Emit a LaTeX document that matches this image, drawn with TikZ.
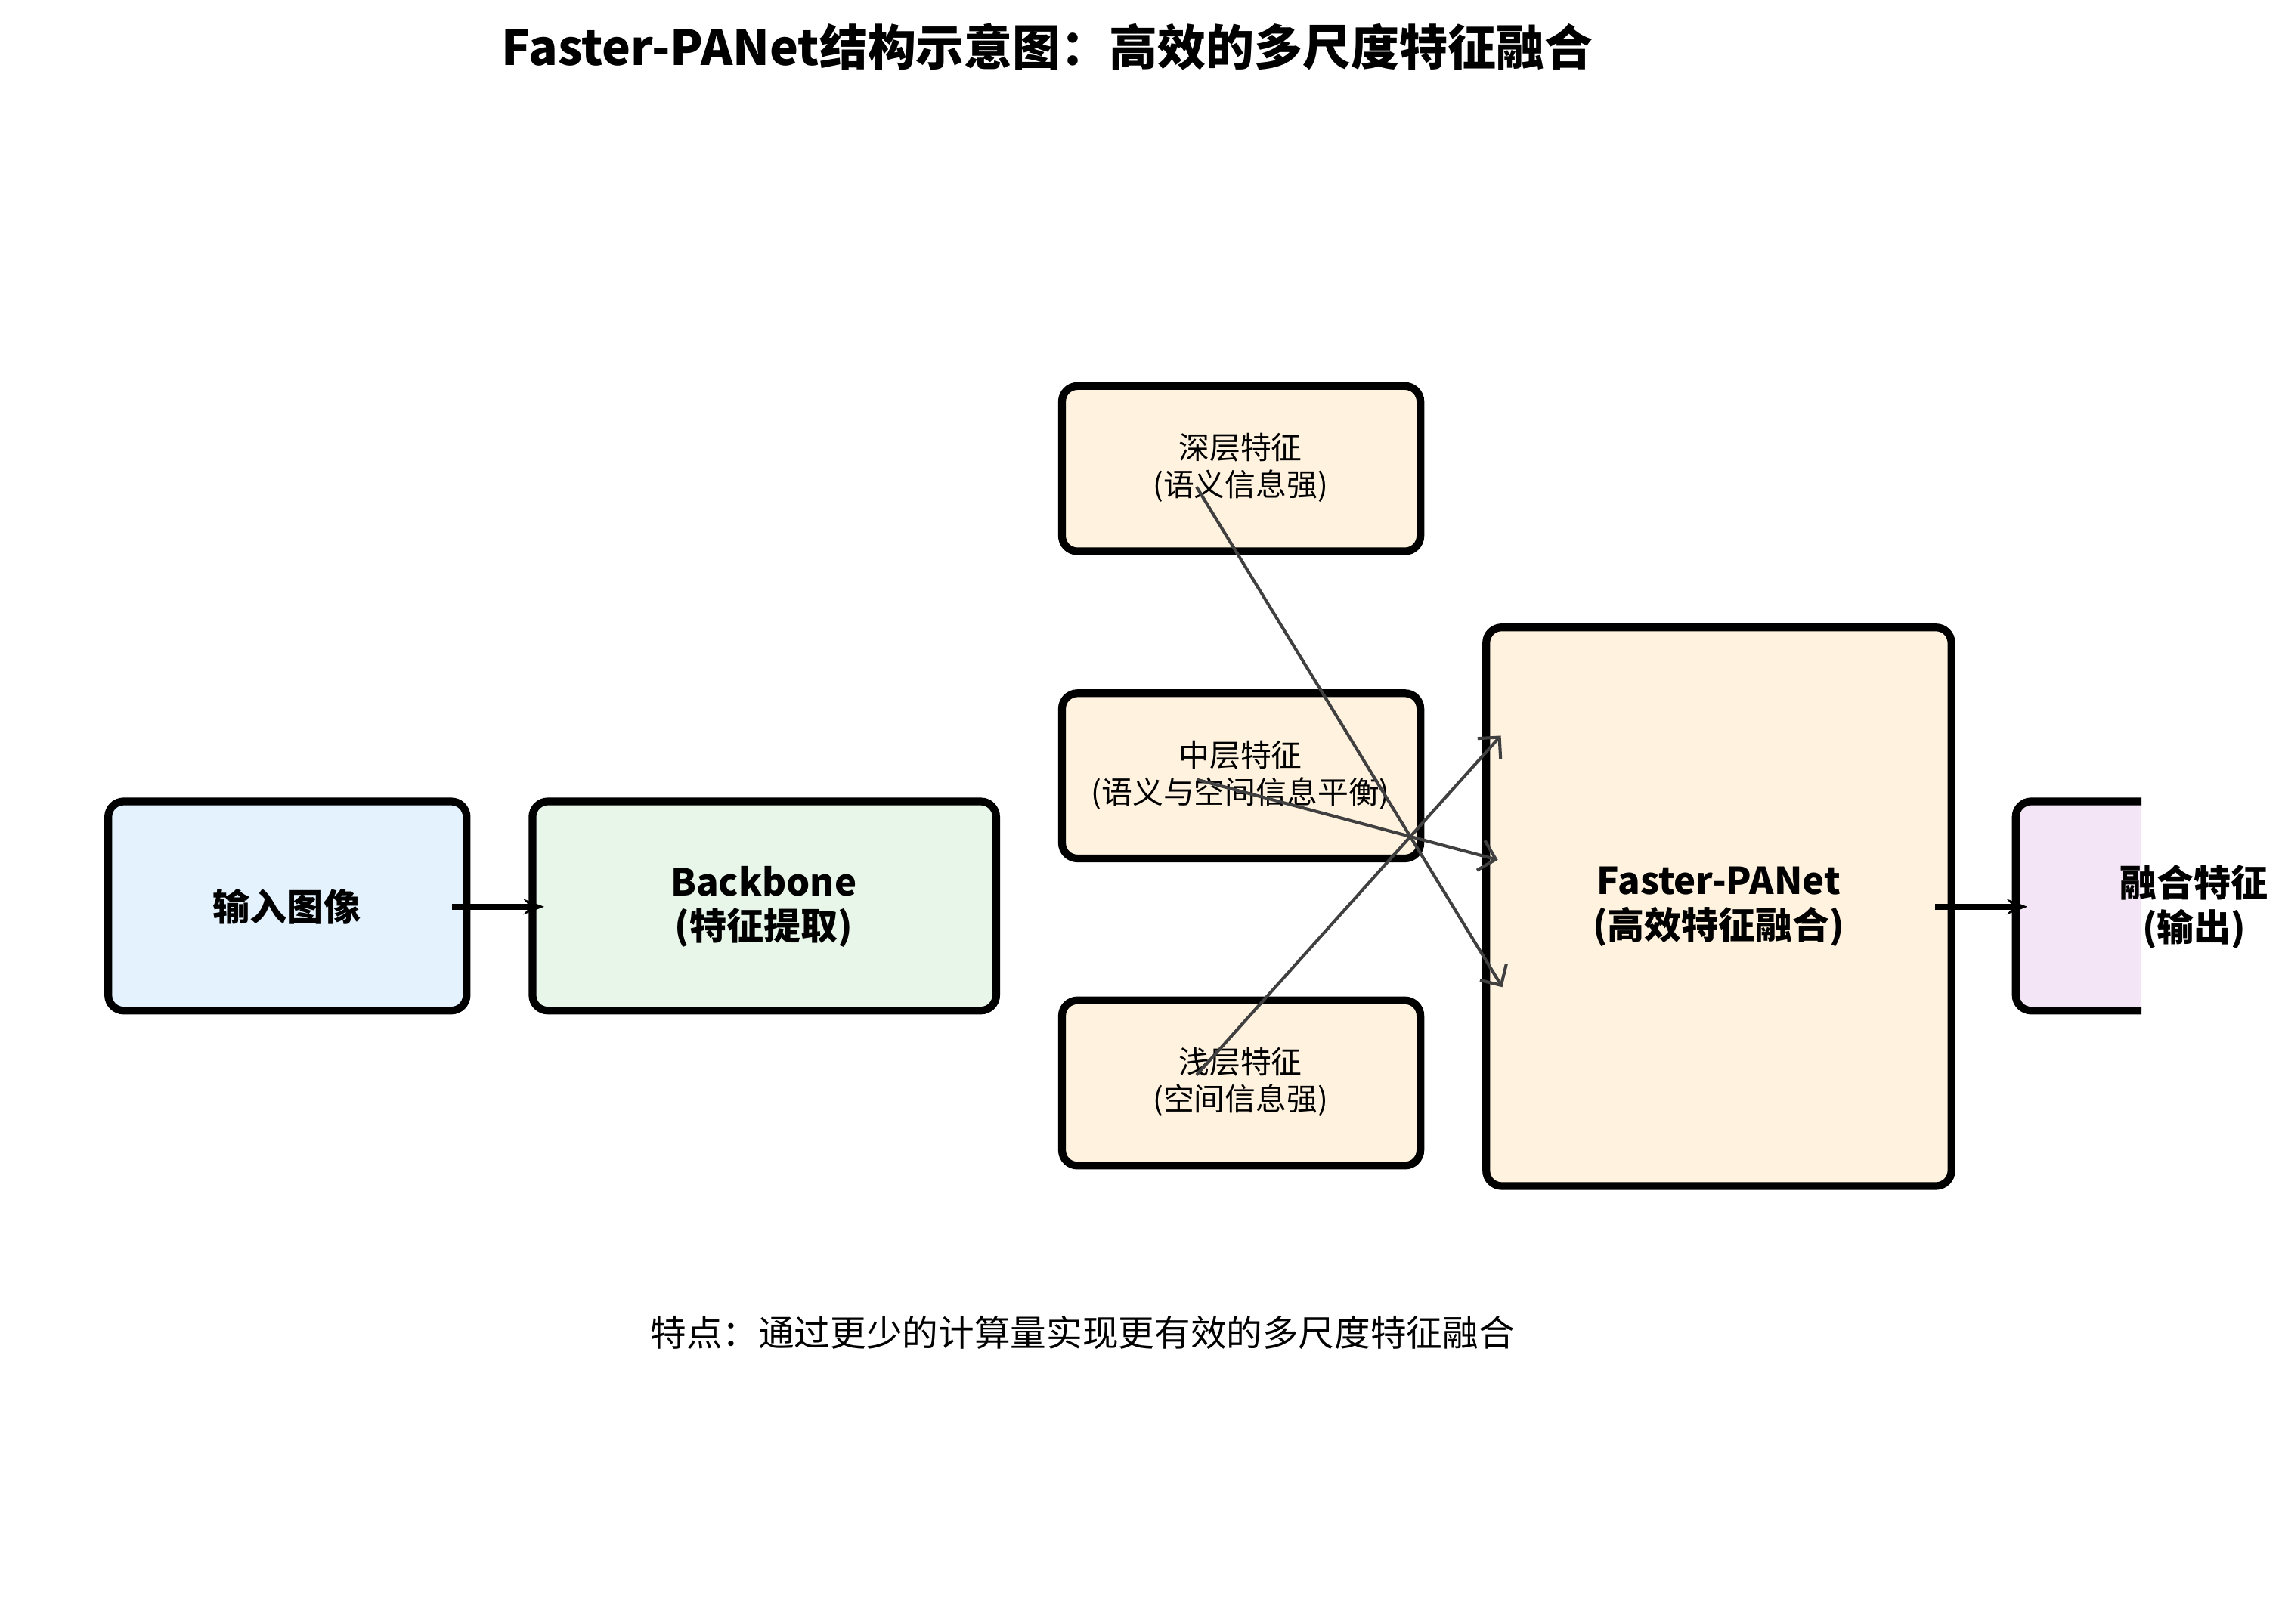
\documentclass[tikz,border=0pt]{standalone}
\usepackage{fontspec}
\setmainfont{Noto Sans CJK SC}
\usetikzlibrary{arrows.meta}
\definecolor{cblue}{HTML}{E3F2FD}
\definecolor{cgreen}{HTML}{E8F5E9}
\definecolor{corange}{HTML}{FFF3E0}
\definecolor{cpurple}{HTML}{F3E5F5}
\begin{document}
\begin{tikzpicture}[x=0.01cm,y=-0.01cm,
 box/.style={draw=black,line width=1.5pt,rounded corners=3pt},
 big/.style={font=\fontsize{7.2}{8.6}\selectfont\bfseries,align=center},
 small/.style={font=\fontsize{6}{7.2}\selectfont,align=center},
 thick arrow/.style={-{Stealth[length=4pt]},line width=1.2pt},
 thin arrow/.style={-{Straight Barb[length=3pt]},draw=black!75,line width=0.6pt}]
\useasboundingbox (0,0) rectangle (1560,1110);
\node[font=\fontsize{9.4}{11}\selectfont\bfseries] (title) at (716,32) {Faster-PANet结构示意图：高效的多尺度特征融合};
\draw[box,fill=cblue] (74,548) rectangle (319,691);
\node[big] (in) at (196,620) {输入图像};
\draw[box,fill=cgreen] (364,548) rectangle (681,691);
\node[big] (bb) at (522,620) {Backbone\\(特征提取)};
\draw[box,fill=corange] (726,264) rectangle (971,377);
\node[small] (deep) at (848,320) {深层特征\\(语义信息强)};
\draw[box,fill=corange] (726,474) rectangle (971,587);
\node[small] (mid) at (848,530) {中层特征\\(语义与空间信息平衡)};
\draw[box,fill=corange] (726,684) rectangle (971,797);
\node[small] (sh) at (848,740) {浅层特征\\(空间信息强)};
\draw[box,fill=corange] (1016,429) rectangle (1334,811);
\node[big] (fp) at (1175,620) {Faster-PANet\\(高效特征融合)};
\begin{scope}
\clip (1360,500) rectangle (1464,720);
\draw[box,fill=cpurple] (1378,548) rectangle (1620,691);
\end{scope}
\node[big] (out) at (1500,620) {融合特征\\(输出)};
\coordinate (a1) at (309,620); \coordinate (a2) at (372,620);
\coordinate (b1) at (1323,620); \coordinate (b2) at (1386,620);
\draw[thick arrow] (a1) -- (a2);
\draw[thick arrow] (b1) -- (b2);
\coordinate (d1) at (818,333); \coordinate (d2) at (1027,675);
\coordinate (m1) at (818,533); \coordinate (m2) at (1024,588);
\coordinate (s1) at (818,735); \coordinate (s2) at (1026,503);
\draw[thin arrow] (d1) -- (d2);
\draw[thin arrow] (m1) -- (m2);
\draw[thin arrow] (s1) -- (s2);
\node[font=\fontsize{7}{8.4}\selectfont] (note) at (740,911) {特点：通过更少的计算量实现更有效的多尺度特征融合};
\end{tikzpicture}
\end{document}
